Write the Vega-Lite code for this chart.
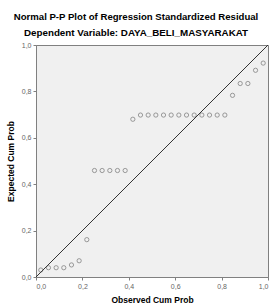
{
  "$schema": "https://vega.github.io/schema/vega-lite/v6.json",
  "autosize": {"type": "none"},
  "width": 232,
  "height": 232,
  "padding": {"left": 36, "top": 45, "right": 4, "bottom": 26},
  "background": "white",
  "title": {
    "text": "Normal P-P Plot of Regression Standardized Residual",
    "subtitle": "Dependent Variable: DAYA_BELI_MASYARAKAT",
    "font": "Liberation Sans",
    "fontSize": 9.6,
    "fontWeight": "bold",
    "color": "#000000",
    "subtitleFont": "Liberation Sans",
    "subtitleFontSize": 9.8,
    "subtitleFontWeight": "bold",
    "subtitleColor": "#000000",
    "subtitlePadding": 7,
    "anchor": "middle",
    "dx": -16,
    "offset": 3
  },
  "config": {
    "view": {"fill": "#f0f0f0", "stroke": "#808080", "strokeWidth": 1},
    "axis": {
      "grid": false,
      "domain": true,
      "domainColor": "#808080",
      "tickColor": "#808080",
      "tickSize": 3,
      "labelFont": "Liberation Sans",
      "labelFontSize": 7,
      "labelColor": "#666666",
      "titleFont": "Liberation Sans",
      "titleFontSize": 8.5,
      "titleFontWeight": "bold",
      "titleColor": "#000000"
    }
  },
  "data": {
    "values": [
      {"obs": 0.0207, "exp": 0.03},
      {"obs": 0.0537, "exp": 0.04},
      {"obs": 0.0868, "exp": 0.04},
      {"obs": 0.1198, "exp": 0.04},
      {"obs": 0.1529, "exp": 0.052},
      {"obs": 0.1860, "exp": 0.07},
      {"obs": 0.2190, "exp": 0.161},
      {"obs": 0.2521, "exp": 0.459},
      {"obs": 0.2851, "exp": 0.459},
      {"obs": 0.3182, "exp": 0.459},
      {"obs": 0.3512, "exp": 0.459},
      {"obs": 0.3843, "exp": 0.459},
      {"obs": 0.4174, "exp": 0.68},
      {"obs": 0.4504, "exp": 0.698},
      {"obs": 0.4835, "exp": 0.698},
      {"obs": 0.5165, "exp": 0.698},
      {"obs": 0.5496, "exp": 0.698},
      {"obs": 0.5826, "exp": 0.698},
      {"obs": 0.6157, "exp": 0.698},
      {"obs": 0.6488, "exp": 0.698},
      {"obs": 0.6818, "exp": 0.698},
      {"obs": 0.7149, "exp": 0.698},
      {"obs": 0.7479, "exp": 0.698},
      {"obs": 0.7810, "exp": 0.698},
      {"obs": 0.8140, "exp": 0.698},
      {"obs": 0.8471, "exp": 0.783},
      {"obs": 0.8802, "exp": 0.834},
      {"obs": 0.9132, "exp": 0.834},
      {"obs": 0.9463, "exp": 0.891},
      {"obs": 0.9793, "exp": 0.922}
    ]
  },
  "layer": [
    {
      "data": {"values": [{"a": 0}, {"a": 1}]},
      "mark": {"type": "line", "color": "#333333", "strokeWidth": 1},
      "encoding": {
        "x": {"field": "a", "type": "quantitative", "scale": {"domain": [0, 1]}},
        "y": {"field": "a", "type": "quantitative", "scale": {"domain": [0, 1]}}
      }
    },
    {
      "mark": {"type": "point", "shape": "circle", "filled": false, "stroke": "#555555", "strokeWidth": 0.8, "size": 18},
      "encoding": {
        "x": {
          "field": "obs", "type": "quantitative",
          "scale": {"domain": [0, 1], "nice": false, "zero": false},
          "axis": {"title": "Observed Cum Prob", "values": [0, 0.2, 0.4, 0.6, 0.8, 1], "labelExpr": "replace(format(datum.value, '.1f'), '.', ',')", "titlePadding": 6}
        },
        "y": {
          "field": "exp", "type": "quantitative",
          "scale": {"domain": [0, 1], "nice": false, "zero": false},
          "axis": {"title": "Expected Cum Prob", "values": [0, 0.2, 0.4, 0.6, 0.8, 1], "labelExpr": "replace(format(datum.value, '.1f'), '.', ',')", "titlePadding": 6}
        }
      }
    }
  ]
}
